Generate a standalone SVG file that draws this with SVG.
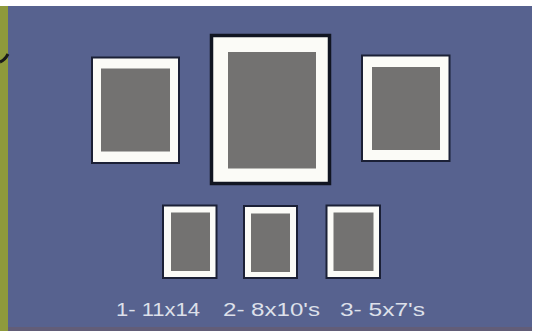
<svg xmlns="http://www.w3.org/2000/svg" width="539" height="331" viewBox="0 0 539 331">
<style>
.mat{fill:#fbfbf7;stroke:#1b2036;stroke-width:2}
.big{fill:#fbfbf7;stroke:#111522;stroke-width:3.5}
.pic{fill:#737271}
.lbl{font-family:"Liberation Sans",Arial,sans-serif;font-size:18.5px;fill:#dde0ea}
</style>
<rect x="0" y="0" width="539" height="331" fill="#ffffff"/>
<rect x="0" y="6" width="8" height="325" fill="#8e9a3c"/>
<rect x="8" y="6" width="524" height="325" fill="#57628f"/>
<rect x="8" y="327" width="524" height="4" fill="#625d78"/>
<path d="M0,62 Q5,60 8,54" fill="none" stroke="#1a1a1a" stroke-width="3"/>
<g id="frame-left">
<rect class="mat" x="92" y="57.5" width="87" height="105.5"/>
<rect class="pic" x="101" y="68.5" width="69" height="83"/>
</g>
<g id="frame-center">
<rect class="big" x="211.5" y="35.5" width="118" height="148"/>
<rect class="pic" x="228" y="52" width="88" height="116.5"/>
</g>
<g id="frame-right">
<rect class="mat" x="362" y="55.5" width="87.5" height="105.5"/>
<rect class="pic" x="372" y="67" width="68" height="83"/>
</g>
<g id="frame-small-1">
<rect class="mat" x="163" y="205.5" width="53.5" height="72.5"/>
<rect class="pic" x="171" y="212.5" width="39" height="58.5"/>
</g>
<g id="frame-small-2">
<rect class="mat" x="244" y="206" width="53" height="72"/>
<rect class="pic" x="251" y="213.5" width="39" height="58.5"/>
</g>
<g id="frame-small-3">
<rect class="mat" x="326.5" y="205.5" width="53.5" height="72.5"/>
<rect class="pic" x="333.5" y="212.5" width="40" height="58.5"/>
</g>
<g id="connectors"></g>
<g id="labels">
<text class="lbl" x="116" y="315.5" textLength="84" lengthAdjust="spacingAndGlyphs">1- 11x14</text>
<text class="lbl" x="223" y="315.5" textLength="97" lengthAdjust="spacingAndGlyphs">2- 8x10's</text>
<text class="lbl" x="340" y="315.5" textLength="85" lengthAdjust="spacingAndGlyphs">3- 5x7's</text>
</g>
</svg>
